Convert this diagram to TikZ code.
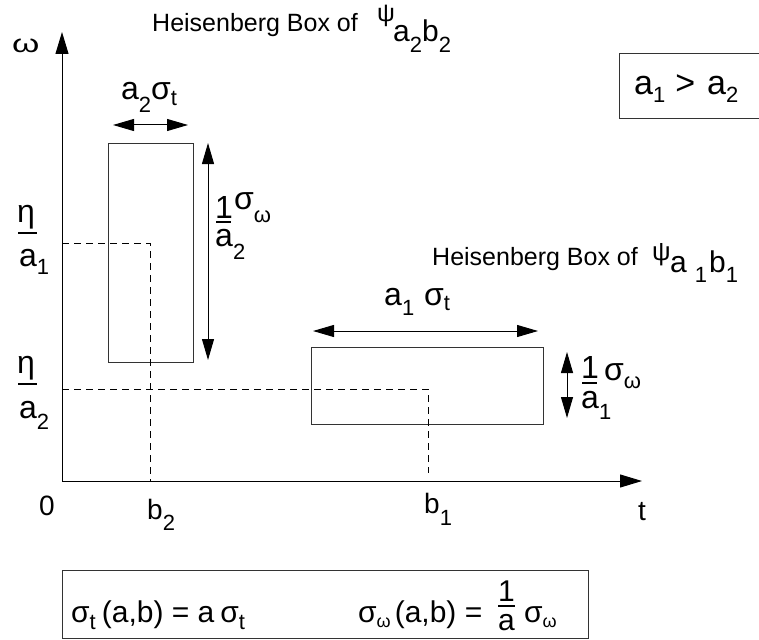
\documentclass[tikz,border=0pt]{standalone}
\usepackage{fontspec}
\setmainfont{Liberation Sans}
\usetikzlibrary{arrows.meta}
\newcommand\lo[2][8pt]{\raisebox{-#1}{\fontsize{22}{22}\selectfont #2}}
\newcommand\los[2][5pt]{\raisebox{-#1}{\fontsize{18}{18}\selectfont #2}}
\begin{document}
\begin{tikzpicture}[x=1pt,y=-1pt,
  lbl/.style={inner sep=0pt, anchor=base west, font=\fontsize{32}{32}\selectfont},
  axl/.style={inner sep=0pt, anchor=base west, font=\fontsize{28}{28}\selectfont},
  hb/.style={inner sep=0pt, anchor=base west, font=\fontsize{25}{25}\selectfont},
  btxt/.style={inner sep=0pt, anchor=base west, font=\fontsize{30}{30}\selectfont},
  box/.style={draw=black!80, line width=1pt},
  ax/.style={line width=1pt, -{Triangle[length=22pt,width=13pt]}},
  dbl/.style={line width=1pt, {Triangle[length=21pt,width=12pt]}-{Triangle[length=21pt,width=12pt]}},
  dsh/.style={line width=0.9pt, dash pattern=on 7pt off 5pt},
  fbar/.style={line width=1.1pt}]
\useasboundingbox (0,0) rectangle (759,639);
% axes
\coordinate (O) at (62,481);
\coordinate (Wtop) at (62,32);
\coordinate (Tend) at (642,481);
\draw[ax] (O) -- (Wtop);
\draw[ax] (O) -- (Tend);
% boxes
\node[box, inner sep=0pt, minimum width=85pt, minimum height=219pt, anchor=north west] (box2) at (108,143) {};
\node[box, inner sep=0pt, minimum width=232pt, minimum height=77pt, anchor=north west] (box1) at (311,347) {};
% dashed guides
\coordinate (e1) at (62,243);
\coordinate (c2) at (150,243);
\coordinate (b2) at (150,481);
\coordinate (e2) at (62,389);
\coordinate (c1) at (428,389);
\coordinate (b1) at (428,473);
\draw[dsh] (e1) -- (c2) -- (b2);
\draw[dsh] (e2) -- (c1) -- (b1);
% dimension arrows
\coordinate (h2l) at (113,125);
\coordinate (h2r) at (188,125);
\draw[dbl] (h2l) -- (h2r);
\coordinate (v2t) at (208,143);
\coordinate (v2b) at (208,360);
\draw[dbl] (v2t) -- (v2b);
\coordinate (h1l) at (313,331);
\coordinate (h1r) at (538,331);
\draw[dbl] (h1l) -- (h1r);
\coordinate (v1t) at (567,352);
\coordinate (v1b) at (567,418);
\draw[dbl] (v1t) -- (v1b);
% axis labels
\node[axl] (omega) at (12,53) {\scalebox{1.25}[0.9]{ω}};
\node[axl] (zero) at (39,515) {0};
\node[axl] (lb2) at (147,519) {b\lo[11pt]{2}};
\node[axl] (lb1) at (424,513) {b\lo[12pt]{1}};
\node[axl] (lt) at (638,520) {t};
% eta fractions
\node[lbl] (eta1) at (17,222) {η};
\draw[fbar] (18,233) -- (37,233);
\node[lbl] (a1den) at (19,266) {a\lo{1}};
\node[lbl] (eta2) at (17,373) {η};
\draw[fbar] (18,384) -- (37,384);
\node[lbl] (a2den) at (19,418) {a\lo[11pt]{2}};
% box widths
\node[lbl] (w2) at (121,100) {a\lo[13pt]{2}σ\lo[6pt]{t}};
\node[lbl] (w1) at (384,305) {a\lo[10pt]{1}\hspace{10pt}σ\lo[5pt]{t}};
% box heights
\node[lbl] (frac2) at (215,246) {\begin{tabular}[b]{@{}l@{}}1\\[-4pt]a\lo[13pt]{2}\end{tabular}};
\draw[fbar] (216,222) -- (231,222);
\node[lbl] (sw2) at (234,209) {σ\lo[13pt]{ω}};
\node[lbl] (frac1) at (581,408) {\begin{tabular}[b]{@{}l@{}}1\\[-2pt]a\lo[11pt]{1}\end{tabular}};
\draw[fbar] (582,383) -- (597,383);
\node[lbl] (sw1) at (604,380) {σ\lo[8pt]{ω}};
% Heisenberg labels
\node[hb] (hbtop) at (152,32) {Heisenberg Box of};
\node[lbl, font=\fontsize{25}{25}\selectfont] (psi2) at (377,22) {ψ};
\node[lbl, font=\fontsize{30}{30}\selectfont] (psi2sub) at (393,42) {a\lo[11pt]{2}b\lo[11pt]{2}};
\node[hb] (hbmid) at (432,265) {Heisenberg Box of};
\node[lbl, font=\fontsize{26}{26}\selectfont] (psi1) at (652,260) {ψ};
\node[lbl, font=\fontsize{30}{30}\selectfont] (psi1sub) at (670,272) {a\hspace{8pt}\lo[10pt]{1}\hspace{2pt}b\lo[10pt]{1}};
% a1 > a2 box
\draw[box] (619,54) rectangle (775,119);
\node[lbl, font=\fontsize{34}{34}\selectfont] (ineq) at (634,95) {a\lo[8pt]{1}\hspace{10pt}>\hspace{12pt}a\lo[8pt]{2}};
% formula box
\draw[box] (62,570) rectangle (588,638);
\node[btxt] (f1) at (71,622) {σ\lo[7pt]{t}\hspace{6pt}(a,b) = a\hspace{6pt}σ\lo[7pt]{t}};
\node[btxt] (f2) at (358,622) {σ\los{ω}\hspace{4pt}(a,b) =};
\node[btxt] (ffrac) at (498,630) {\begin{tabular}[b]{@{}l@{}}1\\[-1pt]a\end{tabular}};
\draw[fbar] (498,606) -- (515,606);
\node[btxt] (fsw) at (524,622) {σ\los{ω}};
\end{tikzpicture}
\end{document}
